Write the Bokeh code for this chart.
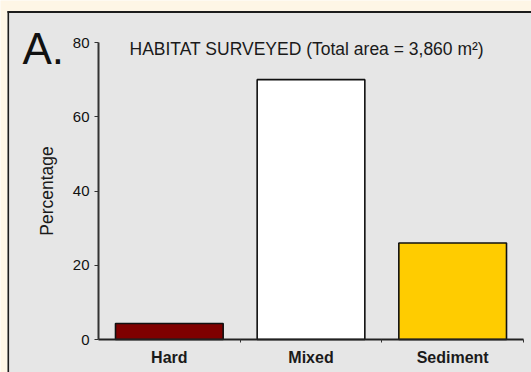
from bokeh.plotting import figure
from bokeh.models import (Range1d, FixedTicker, Label, ColumnDataSource, LinearAxis,
                          BoxAnnotation)
from bokeh.embed import file_html
from bokeh.resources import INLINE

categories = ["Hard", "Mixed", "Sediment"]
percentages = [4.3, 70.0, 26.0]
bar_colors = ["#7f0000", "#ffffff", "#ffcc00"]
y_ticks = [0, 20, 40, 60, 80]
y_max = 80

FONT = "Liberation Sans"
PANEL = "#e6e6e6"
CREAM = "#fef6e6"
DARK = "#1c1c1c"

W, H = 531, 372
AXIS_X = 98          # pixel x of the y axis
AXIS_END_X = 523     # pixel x where the x axis ends
ZERO_Y = 339         # pixel y of value 0
TOP_Y = 42           # pixel y of value 80

n = len(categories)
x_pos = [i + 0.5 for i in range(n)]
ppu_x = (AXIS_END_X - AXIS_X) / n
ppu_y = (ZERO_Y - TOP_Y) / y_max
x_start = -AXIS_X / ppu_x
x_end = n + (W - AXIS_END_X) / ppu_x
y_start = -(H - ZERO_Y) / ppu_y
y_end = y_max + TOP_Y / ppu_y

src = ColumnDataSource(dict(x=x_pos, val=percentages, col=bar_colors))

p = figure(width=W, height=H, output_backend="svg", toolbar_location=None,
           x_range=Range1d(x_start, x_end), y_range=Range1d(y_start, y_end),
           x_axis_location=None, y_axis_location=None,
           min_border=0, min_border_left=0, min_border_right=0,
           min_border_top=0, min_border_bottom=0)
p.background_fill_color = CREAM
p.border_fill_color = CREAM
p.outline_line_color = None
p.grid.grid_line_color = None

# grey panel, with dark border on its top and left edges
panel_left = x_start + 7 / ppu_x
panel_top = y_end - 10.5 / ppu_y
p.add_layout(BoxAnnotation(left=panel_left, right=x_end, top=panel_top, bottom=y_start,
                           fill_color=PANEL, fill_alpha=1, line_color=None, level="underlay"))
p.add_layout(BoxAnnotation(left=panel_left, right=x_end, top=panel_top,
                           bottom=panel_top - 2 / ppu_y,
                           fill_color=DARK, fill_alpha=1, line_color=None, level="underlay"))
p.add_layout(BoxAnnotation(left=panel_left, right=panel_left + 1.6 / ppu_x, top=panel_top,
                           bottom=y_start,
                           fill_color=DARK, fill_alpha=1, line_color=None, level="underlay"))

p.vbar(x="x", top="val", width=0.76, bottom=0, fill_color="col",
       line_color="#111111", line_width=1.6, source=src)

ya = LinearAxis(fixed_location=0, bounds=(0, y_max), ticker=FixedTicker(ticks=y_ticks))
ya.axis_line_width = 2
ya.axis_line_color = "#333333"
ya.major_tick_out = 4
ya.major_tick_in = 0
ya.major_tick_line_color = "#333333"
ya.minor_tick_line_color = None
ya.major_label_text_font = FONT
ya.major_label_text_font_size = "15px"
ya.major_label_text_color = "#111111"
ya.major_label_standoff = 5
ya.axis_label = "Percentage"
ya.axis_label_text_font = FONT
ya.axis_label_text_font_size = "17.5px"
ya.axis_label_text_font_style = "normal"
ya.axis_label_text_color = "#1a1a1a"
ya.axis_label_standoff = 13
p.add_layout(ya, "left")

xa = LinearAxis(fixed_location=0, bounds=(0, n),
                ticker=FixedTicker(ticks=x_pos, minor_ticks=[i + 1 for i in range(n)]),
                major_label_overrides={x: c for x, c in zip(x_pos, categories)})
xa.axis_line_width = 2
xa.axis_line_color = "#222222"
xa.major_tick_line_color = None
xa.minor_tick_out = 3
xa.minor_tick_in = 0
xa.minor_tick_line_color = "#333333"
xa.major_label_text_font = FONT
xa.major_label_text_font_size = "16px"
xa.major_label_text_font_style = "bold"
xa.major_label_text_color = "#1a1a1a"
xa.major_label_standoff = 3
p.add_layout(xa, "below")

p.add_layout(Label(x=129, y=H - 48, x_units="screen", y_units="screen",
                   text="HABITAT SURVEYED (Total area = 3,860 m²)", text_baseline="alphabetic",
                   text_font=FONT, text_font_size="17.5px", text_color="#1a1a1a"))
p.add_layout(Label(x=22, y=H - 48, x_units="screen", y_units="screen",
                   text="A.", text_baseline="alphabetic",
                   text_font=FONT, text_font_size="44px", text_color="#111111"))

open("out.html", "w").write(file_html(p, INLINE))
